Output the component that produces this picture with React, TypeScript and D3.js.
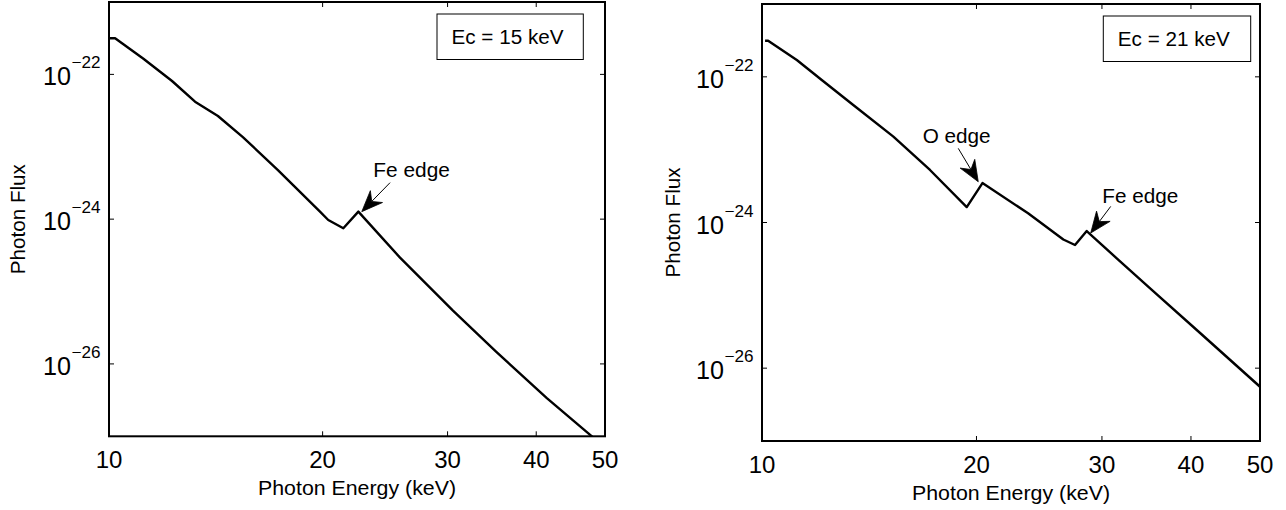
import React from 'react';
import * as d3 from 'd3';

// ---- data ----
const xTickValues = [10, 20, 30, 40, 50];
const yTickValues = [1e-22, 1e-24, 1e-26];
const xDomain = [10, 50];
const yDomain = [1e-27, 1e-21];

const energyEc15 = [10.0, 10.2, 11.17, 12.27, 13.22, 14.24, 15.44, 17.3, 19.83, 20.37, 21.39, 22.46, 25.71, 30.53, 35.11, 41.4, 47.78, 50.0];
const fluxEc15 = [3.16e-22, 3.16e-22, 1.66e-22, 8.1e-23, 4.19e-23, 2.66e-23, 1.36e-23, 4.77e-24, 1.27e-24, 9.73e-25, 7.47e-25, 1.27e-24, 2.94e-25, 5.45e-26, 1.48e-26, 3.37e-27, 1.02e-27, 7.05e-28];

const energyEc21 = [10.1, 10.2, 11.19, 12.13, 13.43, 15.29, 17.21, 19.38, 20.39, 23.63, 26.48, 27.5, 28.56, 31.47, 35.15, 41.2, 50.0];
const fluxEc21 = [3.13e-22, 3.13e-22, 1.7e-22, 9.05e-23, 4.1e-23, 1.51e-23, 5.26e-24, 1.63e-24, 3.48e-24, 1.34e-24, 5.84e-25, 4.91e-25, 7.64e-25, 3.22e-25, 1.22e-25, 3.04e-26, 5.56e-27];

const legendEc15 = 'Ec = 15 keV';
const legendEc21 = 'Ec = 21 keV';
const xAxisLabel = 'Photon Energy (keV)';
const yAxisLabel = 'Photon Flux';

const edgeLabelsEc15 = ['Fe edge'];
const edgeIndexEc15 = [11];
const edgeLabelsEc21 = ['O edge', 'Fe edge'];
const edgeIndexEc21 = [8, 12];

// ---- layout ----
const FONT = "'Liberation Sans', Arial, Helvetica, sans-serif";

type Frame = { x0: number; x1: number; y0: number; y1: number };
type Offsets = { tip: [number, number]; tail: [number, number]; text: [number, number]; width: number };

interface PanelProps {
  id: string;
  frame: Frame;
  energy: number[];
  flux: number[];
  legend: string;
  legendBox: { right: number; width: number };
  edgeLabels: string[];
  edgeIndex: number[];
  edgeOffsets: Offsets[];
  yLabelGap: number;
}

function Arrow({ tail, tip }: { tail: [number, number]; tip: [number, number] }) {
  const dx = tip[0] - tail[0];
  const dy = tip[1] - tail[1];
  const len = Math.hypot(dx, dy);
  const ux = dx / len;
  const uy = dy / len;
  const nx = -uy;
  const ny = ux;
  const L = 21;
  const W = 17;
  const back: [number, number] = [tip[0] - L * ux, tip[1] - L * uy];
  const notch: [number, number] = [tip[0] - 0.68 * L * ux, tip[1] - 0.68 * L * uy];
  const p1: [number, number] = [back[0] + (W / 2) * nx, back[1] + (W / 2) * ny];
  const p2: [number, number] = [back[0] - (W / 2) * nx, back[1] - (W / 2) * ny];
  const head = [tip, p1, notch, p2].map((p) => p.join(',')).join(' ');
  return (
    <g>
      <line x1={tail[0]} y1={tail[1]} x2={notch[0]} y2={notch[1]} stroke="#000" strokeWidth={1} />
      <polygon points={head} fill="#000" stroke="#000" strokeWidth={0.8} strokeLinejoin="miter" />
    </g>
  );
}

function Panel(p: PanelProps) {
  const { frame } = p;
  const x = d3.scaleLog().domain(xDomain).range([frame.x0, frame.x1]);
  const y = d3.scaleLog().domain(yDomain).range([frame.y1, frame.y0]);
  const pts: [number, number][] = p.energy.map((e, i) => [e, p.flux[i]]);
  const line = d3
    .line<[number, number]>()
    .x((d) => x(d[0]))
    .y((d) => y(d[1]));
  const clipId = `clip-${p.id}`;
  const tickLen = 5;
  const bx1 = frame.x1 - p.legendBox.right;
  const bx0 = bx1 - p.legendBox.width;
  const by0 = frame.y0 + 12;
  const by1 = by0 + 45.5;
  return (
    <g>
      <defs>
        <clipPath id={clipId}>
          <rect x={frame.x0} y={frame.y0} width={frame.x1 - frame.x0} height={frame.y1 - frame.y0} />
        </clipPath>
      </defs>
      {/* curve */}
      <path
        d={line(pts) || ''}
        fill="none"
        stroke="#000"
        strokeWidth={2.4}
        strokeLinejoin="round"
        clipPath={`url(#${clipId})`}
      />
      {/* ticks */}
      {xTickValues.map((v) => (
        <g key={`xt${v}`}>
          <line x1={x(v)} x2={x(v)} y1={frame.y1} y2={frame.y1 - tickLen} stroke="#000" strokeWidth={1} />
          <line x1={x(v)} x2={x(v)} y1={frame.y0} y2={frame.y0 + tickLen} stroke="#000" strokeWidth={1} />
          <text x={x(v)} y={frame.y1 + 31.7} textAnchor="middle" fontFamily={FONT} fontSize={24}>
            {String(v)}
          </text>
        </g>
      ))}
      {yTickValues.map((v) => {
        const exp = Math.round(Math.log10(v));
        const yy = y(v);
        return (
          <g key={`yt${v}`}>
            <line x1={frame.x0} x2={frame.x0 + tickLen} y1={yy} y2={yy} stroke="#000" strokeWidth={1} />
            <line x1={frame.x1} x2={frame.x1 - tickLen} y1={yy} y2={yy} stroke="#000" strokeWidth={1} />
            <text x={frame.x0 - 66} y={yy + 11} fontFamily={FONT} fontSize={25} textLength={28} lengthAdjust="spacingAndGlyphs">
              10
            </text>
            <text
              x={frame.x0 - 37.5}
              y={yy - 6}
              fontFamily={FONT}
              fontSize={16.5}
              textLength={29}
              lengthAdjust="spacingAndGlyphs"
            >
              {`\u2212${Math.abs(exp)}`}
            </text>
          </g>
        );
      })}
      {/* frame */}
      <rect
        x={frame.x0}
        y={frame.y0}
        width={frame.x1 - frame.x0}
        height={frame.y1 - frame.y0}
        fill="none"
        stroke="#000"
        strokeWidth={2}
      />
      {/* axis labels */}
      <text
        x={(frame.x0 + frame.x1) / 2}
        y={frame.y1 + 58.7}
        textAnchor="middle"
        fontFamily={FONT}
        fontSize={20}
        textLength={198}
        lengthAdjust="spacingAndGlyphs"
      >
        {xAxisLabel}
      </text>
      <text
        transform={`translate(${frame.x0 - p.yLabelGap}, ${(frame.y0 + frame.y1) / 2}) rotate(-90)`}
        textAnchor="middle"
        fontFamily={FONT}
        fontSize={19.5}
        textLength={110}
        lengthAdjust="spacingAndGlyphs"
      >
        {yAxisLabel}
      </text>
      {/* legend */}
      <rect x={bx0} y={by0} width={bx1 - bx0} height={by1 - by0} fill="#fff" stroke="#000" strokeWidth={1} />
      <text x={bx0 + 14.5} y={by0 + 29.7} fontFamily={FONT} fontSize={20.5} textLength={112} lengthAdjust="spacingAndGlyphs">
        {p.legend}
      </text>
      {/* edge annotations */}
      {p.edgeLabels.map((label, i) => {
        const idx = p.edgeIndex[i];
        const off = p.edgeOffsets[i];
        const px = x(p.energy[idx]);
        const py = y(p.flux[idx]);
        const tip: [number, number] = [px + off.tip[0], py + off.tip[1]];
        const tail: [number, number] = [tip[0] + off.tail[0], tip[1] + off.tail[1]];
        return (
          <g key={`ann${i}`}>
            <Arrow tail={tail} tip={tip} />
            <text
              x={tip[0] + off.text[0]}
              y={tip[1] + off.text[1]}
              fontFamily={FONT}
              fontSize={20}
              textLength={off.width}
              lengthAdjust="spacingAndGlyphs"
            >
              {label}
            </text>
          </g>
        );
      })}
    </g>
  );
}

export default function App() {
  return (
    <svg
      width={1286}
      height={510}
      viewBox="0 0 1286 510"
      style={{ position: 'absolute', left: 0, top: 0, background: '#fff' }}
    >
      <rect x={0} y={0} width={1286} height={510} fill="#fff" />
      <Panel
        id="ec15"
        frame={{ x0: 109, x1: 605, y0: 2, y1: 436.3 }}
        energy={energyEc15}
        flux={fluxEc15}
        legend={legendEc15}
        legendBox={{ right: 21.7, width: 146.3 }}
        edgeLabels={edgeLabelsEc15}
        edgeIndex={edgeIndexEc15}
        edgeOffsets={[{ tip: [3.4, 0], tail: [28.3, -29], text: [11.6, -35], width: 76.5 }]}
        yLabelGap={84}
      />
      <Panel
        id="ec21"
        frame={{ x0: 762, x1: 1260, y0: 4, y1: 441 }}
        energy={energyEc21}
        flux={fluxEc21}
        legend={legendEc21}
        legendBox={{ right: 9.3, width: 147.4 }}
        edgeLabels={edgeLabelsEc21}
        edgeIndex={edgeIndexEc21}
        edgeOffsets={[
          { tip: [-4.2, -1.3], tail: [-20, -33.4], text: [-55.6, -38.4], width: 68 },
          { tip: [4, 2], tail: [20, -26.6], text: [11.6, -30], width: 76 },
        ]}
        yLabelGap={82}
      />
    </svg>
  );
}
